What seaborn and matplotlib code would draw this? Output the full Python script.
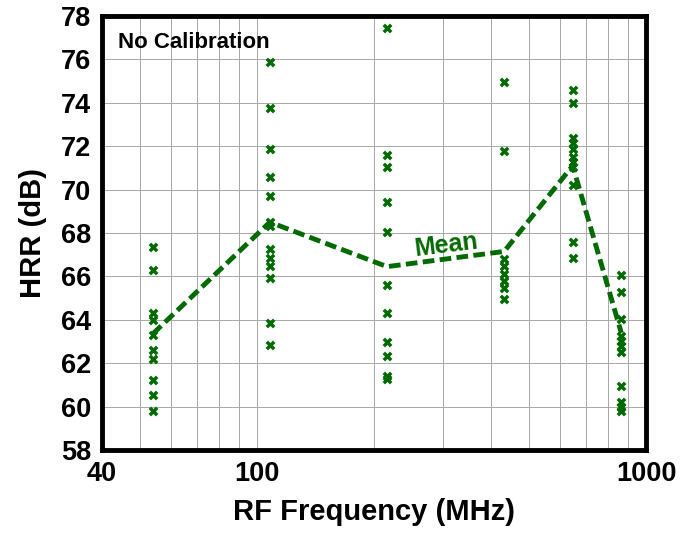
import matplotlib
matplotlib.use("Agg")
import matplotlib.pyplot as plt
import seaborn as sns
import pandas as pd
from matplotlib.ticker import FixedLocator, NullFormatter

# ---------------- data ----------------
freq_mhz = [54, 108, 216, 432, 648, 864]

hrr_54 = [67.37, 66.28, 64.3, 64.0, 63.3, 62.6, 62.2, 61.22, 60.52, 59.82]
hrr_108 = [75.89, 73.74, 71.86, 70.56, 69.71, 68.51, 68.32, 67.28, 66.86,
           66.48, 65.94, 63.83, 62.83]
hrr_216 = [77.45, 71.59, 71.02, 69.43, 68.05, 65.59, 64.33, 62.97, 62.32,
           61.4, 61.25]
hrr_432 = [74.97, 71.78, 66.79, 66.48, 66.09, 65.79, 65.48, 64.94]
hrr_648 = [74.6, 73.97, 72.4, 72.17, 71.86, 71.48, 71.25, 71.02, 70.2,
           67.58, 66.83]
hrr_864 = [66.05, 65.28, 64.05, 63.25, 63.02, 62.79, 62.51, 60.97, 60.2,
           59.99, 59.79]

mean_hrr = [63.35, 68.5, 66.45, 67.15, 71.1, 63.4]

x_major_ticks = [40, 100, 1000]
x_major_labels = ["40", "100", "1000"]
x_minor_ticks = [50, 60, 70, 80, 90, 200, 300, 400, 500, 600, 700, 800, 900]
y_ticks = [58, 60, 62, 64, 66, 68, 70, 72, 74, 76, 78]

# ---------------- style ----------------
sns.set_theme(style="white")
plt.rcParams["font.family"] = ["Liberation Sans", "DejaVu Sans"]
plt.rcParams["font.weight"] = "bold"
plt.rcParams["text.color"] = "black"
plt.rcParams["xtick.color"] = "black"
plt.rcParams["ytick.color"] = "black"
plt.rcParams["axes.labelcolor"] = "black"

green = "#006a00"

rows = []
for f, vals in zip(freq_mhz, [hrr_54, hrr_108, hrr_216, hrr_432, hrr_648, hrr_864]):
    for v in vals:
        rows.append((f, v))
df = pd.DataFrame(rows, columns=["freq", "hrr"])
mean_df = pd.DataFrame({"freq": freq_mhz, "hrr": mean_hrr})

fig, ax = plt.subplots(figsize=(6.98, 5.39), dpi=100)
fig.subplots_adjust(left=102 / 698, right=646 / 698, top=1 - 16 / 539, bottom=1 - 450 / 539)
ax.set_xscale("log")

sns.lineplot(data=mean_df, x="freq", y="hrr", ax=ax, color=green, linewidth=3.5,
             linestyle="--", zorder=3)
ax.lines[0].set_dashes([2.4, 1.1])
sns.scatterplot(data=df, x="freq", y="hrr", ax=ax, marker="X", s=50, color=green,
                linewidth=0, zorder=4)

ax.set_xlim(40, 1000)
ax.set_ylim(58, 78)
ax.xaxis.set_major_locator(FixedLocator(x_major_ticks))
ax.set_xticklabels(x_major_labels)
ax.xaxis.set_minor_locator(FixedLocator(x_minor_ticks))
ax.xaxis.set_minor_formatter(NullFormatter())
ax.set_yticks(y_ticks)
ax.set_yticklabels([str(t) for t in y_ticks])

ax.grid(which="both", axis="x", color="#a8a8a8", linewidth=0.7)
ax.grid(which="major", axis="y", color="#a8a8a8", linewidth=0.7)
ax.set_axisbelow(True)

ax.tick_params(which="both", length=0, labelsize=19.5, pad=8, colors="black")
for lab in ax.get_xticklabels() + ax.get_yticklabels():
    lab.set_fontweight("bold")

for sp in ax.spines.values():
    sp.set_visible(True)
    sp.set_color("black")
    sp.set_linewidth(3.5)

ax.set_xlabel("RF Frequency (MHz)", fontsize=21, fontweight="bold", labelpad=8, color="black")
ax.set_ylabel("HRR (dB)", fontsize=21, fontweight="bold", labelpad=10, color="black")

ax.text(0.03, 0.962, "No Calibration", transform=ax.transAxes, ha="left", va="top",
        fontsize=16, fontweight="bold", color="black")
ax.text(306, 67.43, "Mean", rotation=7, ha="center", va="center", fontsize=18,
        fontweight="bold", color=green, rotation_mode="anchor")

fig.savefig("out.png", dpi=100)
